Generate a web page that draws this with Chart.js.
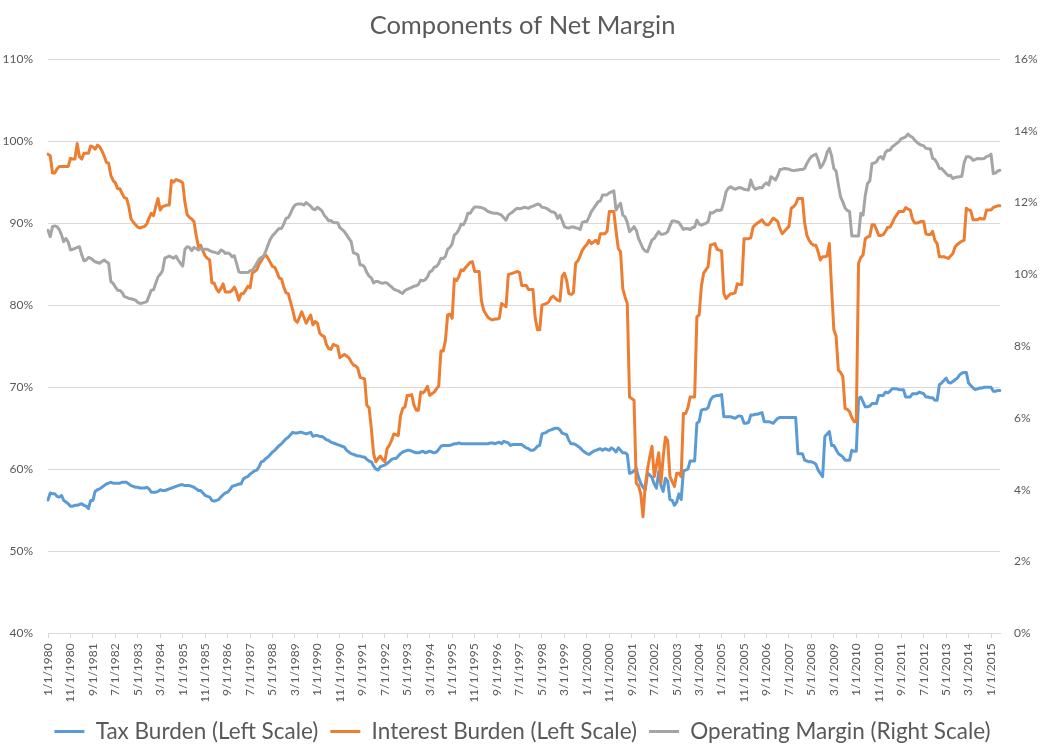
<!DOCTYPE html>
<html><head><meta charset="utf-8">
<script src="https://cdn.jsdelivr.net/npm/chart.js@4"></script>
<style>html,body{margin:0;padding:0;background:#fff;overflow:hidden}#wrap{width:1045px;height:746px}</style>
</head><body>
<div id="wrap"><canvas id="c" width="1045" height="746"></canvas></div>
<script>
const startYear = 1980;
const tickEvery = 10;
const seriesNames = ['Tax Burden (Left Scale)', 'Interest Burden (Left Scale)', 'Operating Margin (Right Scale)'];
const seriesColors = ['#5B9BD5', '#ED7D31', '#A5A5A5'];
const leftAxis = [40, 110, 10];
const rightAxis = [0, 16, 2];

const taxBurden = [
56.25,57.1,57.0,57.0,56.7,56.6,56.8,56.2,56.0,55.8,
55.5,55.5,55.6,55.6,55.7,55.8,55.6,55.5,55.2,56.2,
56.2,57.3,57.5,57.6,57.8,58.0,58.2,58.3,58.4,58.3,
58.3,58.3,58.3,58.4,58.4,58.4,58.2,58.0,57.9,57.8,
57.8,57.7,57.7,57.7,57.8,57.6,57.2,57.2,57.2,57.3,
57.5,57.4,57.4,57.5,57.6,57.7,57.8,57.9,58.0,58.1,
58.1,58.0,58.0,58.0,57.9,57.8,57.6,57.4,57.4,57.1,
56.8,56.7,56.6,56.2,56.1,56.2,56.3,56.6,56.9,57.1,
57.2,57.5,57.9,58.0,58.1,58.2,58.2,58.8,59.0,59.1,
59.4,59.6,59.8,59.9,60.3,60.9,61.0,61.3,61.5,61.8,
62.1,62.3,62.6,62.9,63.1,63.4,63.7,63.9,64.2,64.5,
64.4,64.4,64.5,64.5,64.4,64.3,64.4,64.5,64.0,64.1,
64.1,64.0,64.0,63.8,63.6,63.5,63.3,63.2,63.1,63.0,
62.9,62.8,62.7,62.3,62.1,61.9,61.8,61.7,61.6,61.6,
61.5,61.5,61.2,61.0,60.9,60.4,60.0,59.9,60.3,60.4,
60.5,60.7,60.9,61.2,61.3,61.3,61.6,61.9,62.1,62.2,
62.3,62.3,62.2,62.1,62.0,62.0,62.1,62.2,62.0,62.1,
62.2,62.1,62.0,62.1,62.4,62.8,62.9,62.9,62.9,62.9,
63.0,63.1,63.1,63.2,63.1,63.1,63.1,63.1,63.1,63.1,
63.1,63.1,63.1,63.1,63.1,63.1,63.1,63.2,63.2,63.1,
63.2,63.3,63.1,63.4,63.3,63.2,62.9,63.0,63.0,63.0,
63.0,63.0,62.8,62.6,62.5,62.3,62.3,62.5,62.8,62.9,
64.3,64.4,64.5,64.7,64.8,64.9,65.0,65.0,64.8,64.4,
64.3,64.2,63.5,63.1,63.1,63.0,62.8,62.6,62.3,62.1,
61.9,61.8,62.0,62.2,62.3,62.4,62.5,62.3,62.5,62.4,
62.3,62.6,62.4,62.1,62.6,62.3,62.0,62.0,61.8,59.5,
59.6,59.8,60.1,59.0,58.3,57.8,57.5,59.5,59.3,59.0,
58.2,57.7,59.7,58.0,57.3,58.9,58.6,56.3,56.2,55.6,
56.0,57.0,56.3,59.8,59.9,60.0,61.0,61.0,61.0,65.6,
65.8,67.2,67.3,67.3,67.5,68.4,68.8,68.9,69.0,69.0,
69.1,66.4,66.4,66.4,66.4,66.3,66.2,66.4,66.5,66.4,
65.6,65.6,65.7,66.6,66.6,66.7,66.7,66.8,66.9,65.8,
65.8,65.8,65.7,65.6,65.9,66.2,66.3,66.3,66.3,66.3,
66.3,66.3,66.3,66.3,61.9,61.9,61.9,61.1,61.0,60.9,
60.9,60.8,60.6,59.9,59.5,59.1,64.0,64.3,64.6,62.9,
62.9,62.4,61.9,61.7,61.5,61.1,61.1,61.1,62.3,62.2,
62.2,68.6,68.8,68.2,67.6,67.6,67.7,68.0,68.0,68.0,
69.0,69.0,69.0,69.4,69.3,69.5,69.8,69.8,69.8,69.7,
69.7,69.7,68.8,68.8,68.8,69.2,69.2,69.2,69.4,69.3,
69.2,68.8,68.8,68.7,68.7,68.4,68.4,70.3,70.5,70.8,
71.1,70.6,70.5,70.7,70.9,71.1,71.5,71.7,71.8,71.8,
70.5,70.2,69.9,69.7,69.8,69.9,69.9,70.0,70.0,70.0,
70.0,69.5,69.5,69.6,69.6
];

const interestBurden = [
98.4,98.2,96.1,96.1,96.6,96.9,96.9,96.9,96.9,96.9,
97.9,97.8,97.8,99.7,98.1,97.8,98.5,98.5,98.5,99.4,
99.3,99.0,99.5,99.3,98.8,98.2,97.4,97.3,95.8,95.2,
94.9,94.2,94.2,93.6,93.1,93.0,92.0,90.5,90.1,89.8,
89.5,89.4,89.5,89.6,89.9,90.6,91.2,90.9,92.0,93.0,
91.6,92.0,92.1,92.2,92.2,95.2,95.0,95.3,95.2,95.1,
94.9,92.5,91.0,90.7,90.5,90.2,88.5,87.1,87.3,86.6,
86.0,85.7,85.5,82.7,82.7,82.0,81.6,82.0,82.6,81.6,
81.6,81.6,81.8,82.2,81.6,80.6,81.4,81.4,81.8,82.3,
82.1,83.9,84.1,84.3,85.0,85.4,85.9,86.1,85.7,85.2,
84.7,84.6,84.0,83.3,83.2,82.2,81.5,81.4,80.4,79.4,
78.2,77.9,78.5,79.2,78.5,77.8,78.3,78.8,77.6,78.0,
77.8,76.6,76.3,76.2,75.2,74.7,74.6,75.2,75.1,75.0,
73.6,73.8,74.0,73.8,73.6,73.1,72.7,72.6,72.3,71.2,
71.1,71.0,67.8,67.5,65.0,61.9,60.9,61.3,61.6,61.2,
60.9,62.5,62.9,63.5,64.3,64.2,64.1,66.5,67.4,67.6,
69.0,69.0,69.1,67.8,67.2,67.2,69.4,69.3,69.6,70.1,
69.0,69.2,69.4,69.8,70.1,74.4,74.4,75.7,78.8,78.9,
78.4,83.2,83.0,83.5,84.3,84.2,84.6,84.9,85.2,85.3,
84.1,84.1,84.1,80.6,79.4,78.9,78.5,78.3,78.2,78.3,
78.3,78.4,80.2,80.0,79.8,83.7,83.8,83.9,84.0,84.1,
84.0,82.4,82.4,82.4,81.9,81.9,81.9,78.4,77.0,77.0,
80.0,80.1,80.2,80.4,80.9,81.1,80.8,80.6,80.5,83.5,
83.9,83.0,81.4,81.3,81.5,85.1,85.4,86.0,86.7,87.1,
87.4,87.9,87.5,87.7,87.9,87.5,88.7,88.7,88.7,89.0,
91.4,91.4,91.4,89.0,86.9,86.5,82.0,81.0,80.2,68.8,
68.6,68.4,58.3,58.0,57.0,54.2,58.0,60.0,61.5,62.8,
59.1,60.5,62.0,58.3,61.5,63.9,63.5,59.1,58.5,57.9,
59.5,59.5,59.1,66.8,66.8,67.5,68.8,68.8,68.8,78.6,
78.8,82.3,83.9,84.3,84.7,87.3,87.4,87.5,86.8,86.7,
86.6,81.4,80.8,81.1,81.4,81.4,81.5,82.6,82.5,82.5,
88.1,88.1,88.1,88.2,89.5,89.8,90.0,90.2,90.4,90.0,
89.8,89.8,90.2,90.6,90.4,90.2,89.3,88.7,89.0,89.3,
89.6,91.8,92.0,92.3,93.0,93.0,93.0,90.0,88.5,87.9,
87.5,87.3,87.3,86.5,85.5,85.9,85.9,86.0,87.5,82.0,
77.0,76.2,72.1,71.8,71.3,67.4,67.3,67.0,66.3,65.8,
65.8,85.1,85.8,86.1,88.1,88.3,88.4,89.8,89.8,89.2,
88.5,88.5,88.6,89.0,89.5,89.5,90.0,90.6,91.0,91.4,
91.4,91.4,91.9,91.7,91.6,90.5,90.0,90.0,90.1,90.2,
90.2,88.7,88.6,88.6,89.0,87.9,87.5,85.9,85.9,85.9,
85.8,85.7,86.0,86.3,87.1,87.4,87.6,87.8,87.9,91.8,
91.6,91.5,90.4,90.4,90.4,90.6,90.5,90.5,91.6,91.6,
91.6,91.9,92.0,92.1,92.1
];

const operatingMargin = [
11.23,11.05,11.33,11.35,11.33,11.25,11.10,10.91,11.00,10.90,
10.68,10.70,10.72,10.75,10.77,10.55,10.38,10.40,10.47,10.45,
10.40,10.35,10.33,10.31,10.36,10.40,10.35,10.31,9.80,9.75,
9.65,9.56,9.55,9.50,9.38,9.36,9.33,9.32,9.30,9.28,
9.22,9.19,9.20,9.22,9.24,9.40,9.56,9.57,9.75,9.93,
10.00,10.10,10.45,10.48,10.51,10.48,10.45,10.51,10.40,10.31,
10.23,10.70,10.77,10.75,10.66,10.75,10.72,10.68,10.72,10.70,
10.70,10.70,10.66,10.63,10.62,10.60,10.58,10.68,10.65,10.58,
10.60,10.57,10.49,10.52,10.30,10.07,10.05,10.05,10.05,10.05,
10.10,10.12,10.20,10.31,10.42,10.47,10.51,10.65,10.82,10.98,
11.08,11.14,11.22,11.28,11.28,11.40,11.56,11.58,11.70,11.84,
11.93,11.96,11.96,11.96,11.93,12.00,11.95,11.90,11.82,11.80,
11.87,11.82,11.77,11.65,11.58,11.49,11.50,11.45,11.44,11.44,
11.30,11.25,11.19,11.10,11.00,10.92,10.60,10.58,10.55,10.26,
10.26,10.20,10.05,9.95,9.90,9.76,9.80,9.80,9.77,9.75,
9.77,9.76,9.70,9.65,9.59,9.56,9.54,9.50,9.47,9.55,
9.58,9.61,9.64,9.67,9.68,9.72,9.84,9.82,9.85,9.93,
10.07,10.10,10.20,10.22,10.30,10.45,10.44,10.50,10.70,10.75,
10.85,11.10,11.15,11.25,11.40,11.38,11.50,11.70,11.70,11.80,
11.88,11.88,11.87,11.86,11.84,11.80,11.75,11.73,11.71,11.70,
11.70,11.68,11.65,11.58,11.51,11.65,11.70,11.74,11.80,11.84,
11.83,11.84,11.87,11.86,11.84,11.88,11.90,11.93,11.96,11.94,
11.87,11.86,11.84,11.80,11.75,11.74,11.70,11.56,11.65,11.50,
11.33,11.30,11.29,11.32,11.32,11.30,11.28,11.25,11.45,11.47,
11.47,11.60,11.75,11.84,11.93,12.02,12.05,12.21,12.21,12.22,
12.27,12.30,12.33,11.79,11.90,11.98,11.65,11.60,11.45,11.19,
11.25,11.33,11.23,11.00,10.86,10.72,10.65,10.63,10.80,10.96,
11.00,11.10,11.19,11.12,11.12,11.14,11.19,11.35,11.49,11.49,
11.47,11.44,11.35,11.25,11.28,11.27,11.25,11.30,11.32,11.51,
11.40,11.37,11.40,11.42,11.47,11.72,11.71,11.75,11.79,11.78,
11.80,12.02,12.30,12.40,12.44,12.40,12.37,12.40,12.42,12.40,
12.37,12.36,12.35,12.63,12.45,12.37,12.40,12.42,12.41,12.50,
12.55,12.49,12.72,12.68,12.63,12.75,12.92,12.93,12.95,12.94,
12.93,12.90,12.89,12.90,12.91,12.92,12.92,12.95,13.09,13.20,
13.28,13.32,13.35,13.20,12.97,13.05,13.18,13.40,13.51,13.30,
12.95,12.88,12.50,12.16,12.02,11.85,11.78,11.75,11.07,11.07,
11.07,11.07,11.70,11.65,12.20,12.53,12.60,13.09,13.10,13.14,
13.25,13.28,13.21,13.40,13.46,13.46,13.55,13.60,13.65,13.70,
13.78,13.80,13.83,13.91,13.85,13.82,13.74,13.68,13.63,13.60,
13.58,13.51,13.50,13.49,13.23,13.20,13.10,12.95,12.95,12.88,
12.81,12.75,12.76,12.67,12.70,12.71,12.72,12.73,13.10,13.28,
13.28,13.25,13.18,13.20,13.23,13.22,13.22,13.23,13.28,13.30,
13.35,12.81,12.82,12.88,12.90
];

// monthly category labels 1/1/1980 ... 5/1/2015
const months = [];
for (let i = 0; i < taxBurden.length; i++) {
  months.push(((i % 12) + 1) + '/1/' + (startYear + Math.floor(i / 12)));
}

const textColor = '#595959';
const gridColor = '#d9d9d9';
Chart.defaults.font.family = 'Lato, "Open Sans", sans-serif';
Chart.defaults.color = textColor;

const legendFont = 22.5;
const legendPad = 12;
const legendHeight = legendFont + legendPad + 10;
const legendShift = {
  id: 'legendShift',
  afterLayout(chart) {
    const l = chart.legend;
    if (!l) return;
    const d = 731.5 - (746 - 10 - legendFont / 2);
    l.top += d; l.bottom += d;
  }
};

function series(i, data, axis, order) {
  return {label: seriesNames[i], data: data, yAxisID: axis,
    borderColor: seriesColors[i], backgroundColor: seriesColors[i], borderWidth: 3,
    pointRadius: 0, pointHoverRadius: 0, pointBorderWidth: 3,
    pointBorderColor: seriesColors[i], pointBackgroundColor: seriesColors[i], order: order};
}

new Chart(document.getElementById('c'), {
  type: 'line',
  data: {
    labels: months,
    datasets: [
      series(0, taxBurden, 'y', 3),
      series(1, interestBurden, 'y', 2),
      series(2, operatingMargin, 'y2', 1)
    ]
  },
  options: {
    responsive: false,
    animation: false,
    devicePixelRatio: 1,
    layout: {padding: 0},
    elements: {line: {tension: 0, borderJoinStyle: 'round', borderCapStyle: 'round'}},
    plugins: {
      title: {display: true, text: 'Components of Net Margin', color: textColor,
        font: {size: 25.5, weight: 'normal', lineHeight: 1.2}, padding: {top: 10, bottom: 18.4}},
      legend: {position: 'bottom', labels: {usePointStyle: true, pointStyle: 'line', pointStyleWidth: 30,
        padding: legendPad, font: {size: legendFont}, color: textColor,
        sort: (a, b) => a.datasetIndex - b.datasetIndex}},
      tooltip: {enabled: false}
    },
    scales: {
      x: {
        type: 'category',
        grid: {display: true, drawOnChartArea: false, color: gridColor, tickLength: 5},
        border: {display: true, color: gridColor},
        ticks: {autoSkip: false, minRotation: 90, maxRotation: 90, padding: 5, font: {size: 12}, color: textColor,
          callback: function (v, i) { return i % tickEvery === 0 ? months[i] : null; }},
        afterFit: s => { s.height = 112.7 - legendHeight; }
      },
      y: {
        position: 'left', min: leftAxis[0], max: leftAxis[1],
        ticks: {stepSize: leftAxis[2], callback: v => v + '%', padding: 15, font: {size: 12}, color: textColor},
        grid: {color: gridColor, drawTicks: false},
        border: {display: false},
        afterFit: s => { s.width = 48; }
      },
      y2: {
        position: 'right', min: rightAxis[0], max: rightAxis[1],
        ticks: {stepSize: rightAxis[2], callback: v => v + '%', padding: 14, font: {size: 12}, color: textColor},
        grid: {display: false, drawOnChartArea: false, drawTicks: false},
        border: {display: false},
        afterFit: s => { s.width = 45; }
      }
    }
  },
  plugins: [legendShift]
});
</script>
</body></html>
